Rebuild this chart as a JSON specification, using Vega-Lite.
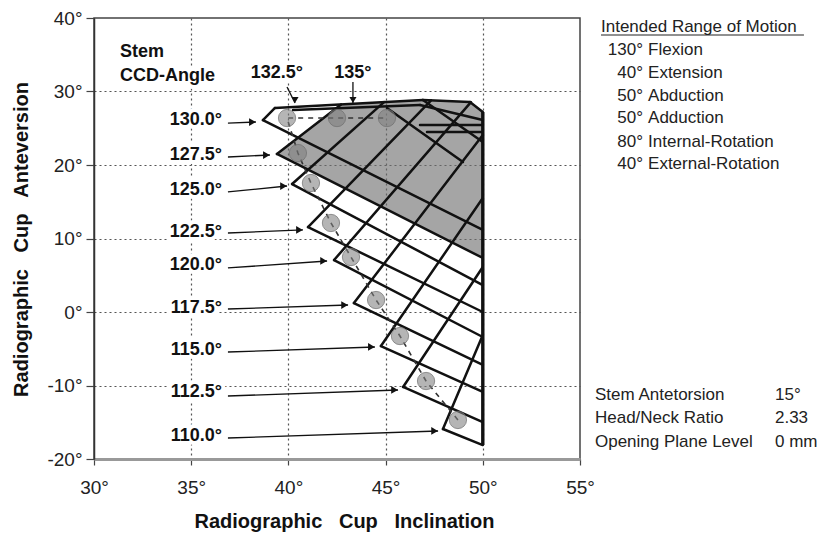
{
  "$schema": "https://vega.github.io/schema/vega-lite/v6.json",
  "width": 486,
  "height": 441,
  "autosize": {"type": "none"},
  "padding": {"left": 94, "top": 18, "right": 239, "bottom": 76},
  "background": "white",
  "config": {"view": {"stroke": "#444", "strokeWidth": 1.5}, "font": "Liberation Sans"},
  "datasets": {
    "gray": [
      {"x": 39.41, "lo": 21.50, "hi": 21.50},
      {"x": 42.71, "lo": 17.09, "hi": 28.24},
      {"x": 46.92, "lo": 11.47, "hi": 28.84},
      {"x": 49.34, "lo": 8.23, "hi": 28.57},
      {"x": 50.00, "lo": 7.35, "hi": 27.21}
    ],
    "mesh": [
      {"x": 47.95, "y": -15.92, "x2": 50, "y2": -18.10},
      {"x": 45.90, "y": -10.20, "x2": 50, "y2": -14.97},
      {"x": 44.76, "y": -4.63, "x2": 50, "y2": -10.88},
      {"x": 43.37, "y": 1.22, "x2": 50, "y2": -7.21},
      {"x": 42.35, "y": 7.07, "x2": 50, "y2": -3.40},
      {"x": 41.01, "y": 11.56, "x2": 50, "y2": 0.00},
      {"x": 40.19, "y": 17.41, "x2": 50, "y2": 3.67},
      {"x": 39.41, "y": 21.50, "x2": 50, "y2": 7.35},
      {"x": 38.69, "y": 26.12, "x2": 50, "y2": 11.16},
      {"x": 38.69, "y": 26.12, "x2": 39.31, "y2": 27.76},
      {"x": 39.41, "y": 21.50, "x2": 42.71, "y2": 28.24},
      {"x": 40.19, "y": 17.41, "x2": 44.92, "y2": 28.56},
      {"x": 41.01, "y": 11.56, "x2": 47.34, "y2": 28.80},
      {"x": 42.35, "y": 7.07, "x2": 49.39, "y2": 28.56},
      {"x": 43.37, "y": 1.22, "x2": 50, "y2": 24.08},
      {"x": 44.76, "y": -4.63, "x2": 50, "y2": 15.51},
      {"x": 45.90, "y": -10.20, "x2": 50, "y2": 6.12},
      {"x": 47.95, "y": -15.92, "x2": 50, "y2": -3.13},
      {"x": 39.31, "y": 27.76, "x2": 46.92, "y2": 28.84},
      {"x": 46.92, "y": 28.84, "x2": 49.34, "y2": 28.57},
      {"x": 49.34, "y": 28.57, "x2": 50, "y2": 27.21},
      {"x": 40.24, "y": 27.48, "x2": 46.77, "y2": 28.16},
      {"x": 46.77, "y": 28.16, "x2": 50, "y2": 26.12},
      {"x": 46.92, "y": 28.84, "x2": 50, "y2": 23.13},
      {"x": 46.77, "y": 25.44, "x2": 50, "y2": 25.44},
      {"x": 47.13, "y": 24.49, "x2": 50, "y2": 24.49},
      {"x": 45.07, "y": 27.76, "x2": 48.98, "y2": 20.41}
    ],
    "edge": [
      {"x": 50, "y": -18.10, "x2": 50, "y2": 27.21}
    ],
    "circles": [
      {"ccd": 110.0, "x": 48.72, "y": -14.69},
      {"ccd": 112.5, "x": 47.08, "y": -9.39},
      {"ccd": 115.0, "x": 45.74, "y": -3.27},
      {"ccd": 117.5, "x": 44.51, "y": 1.63},
      {"ccd": 120.0, "x": 43.22, "y": 7.48},
      {"ccd": 122.5, "x": 42.19, "y": 12.11},
      {"ccd": 125.0, "x": 41.16, "y": 17.55},
      {"ccd": 127.5, "x": 40.49, "y": 21.63},
      {"ccd": 130.0, "x": 39.93, "y": 26.39},
      {"ccd": 132.5, "x": 42.50, "y": 26.39},
      {"ccd": 135.0, "x": 45.07, "y": 26.39}
    ],
    "ccdLabels": [
      {"t": "130.0°", "x": 36.58, "y": 26.12},
      {"t": "127.5°", "x": 36.58, "y": 21.36},
      {"t": "125.0°", "x": 36.58, "y": 16.60},
      {"t": "122.5°", "x": 36.58, "y": 10.88},
      {"t": "120.0°", "x": 36.58, "y": 6.39},
      {"t": "117.5°", "x": 36.58, "y": 0.54},
      {"t": "115.0°", "x": 36.58, "y": -5.17},
      {"t": "112.5°", "x": 36.58, "y": -10.88},
      {"t": "110.0°", "x": 36.58, "y": -16.87}
    ],
    "arrows": [
      {"x": 36.89, "y": 25.71, "x2": 38.33, "y2": 25.85},
      {"x": 36.89, "y": 21.09, "x2": 39.05, "y2": 21.36},
      {"x": 36.89, "y": 16.33, "x2": 39.93, "y2": 17.14},
      {"x": 36.89, "y": 10.75, "x2": 40.75, "y2": 11.16},
      {"x": 36.89, "y": 5.99, "x2": 41.99, "y2": 6.94},
      {"x": 36.89, "y": 0.41, "x2": 43.07, "y2": 0.95},
      {"x": 36.89, "y": -5.44, "x2": 44.45, "y2": -4.76},
      {"x": 36.89, "y": -11.43, "x2": 45.64, "y2": -10.61},
      {"x": 36.89, "y": -17.14, "x2": 47.70, "y2": -16.19}
    ],
    "topArrows": [
      {"x": 39.93, "y": 30.61, "x2": 40.34, "y2": 28.44},
      {"x": 43.32, "y": 31.29, "x2": 43.32, "y2": 28.44}
    ],
    "topLabels": [
      {"t": "132.5°", "x": 39.41, "y": 32.52},
      {"t": "135°", "x": 43.32, "y": 32.52}
    ],
    "stemLabels": [
      {"t": "Stem", "x": 31.34, "y": 35.37},
      {"t": "CCD-Angle", "x": 31.34, "y": 32.11}
    ],
    "info": [
      {"t": "Intended Range of Motion", "x": 56.08, "y": 38.78},
      {"t": "Flexion", "x": 58.50, "y": 35.65},
      {"t": "Extension", "x": 58.50, "y": 32.52},
      {"t": "Abduction", "x": 58.50, "y": 29.39},
      {"t": "Adduction", "x": 58.50, "y": 26.39},
      {"t": "Internal-Rotation", "x": 58.50, "y": 23.13},
      {"t": "External-Rotation", "x": 58.50, "y": 20.14},
      {"t": "Stem Antetorsion", "x": 55.77, "y": -11.29},
      {"t": "Head/Neck Ratio", "x": 55.77, "y": -14.42},
      {"t": "Opening Plane Level", "x": 55.77, "y": -17.69},
      {"t": "15°", "x": 65.03, "y": -11.29},
      {"t": "2.33", "x": 65.03, "y": -14.42},
      {"t": "0 mm", "x": 65.03, "y": -17.69}
    ],
    "infoNum": [
      {"t": "130°", "x": 58.24, "y": 35.65},
      {"t": "40°", "x": 58.24, "y": 32.52},
      {"t": "50°", "x": 58.24, "y": 29.39},
      {"t": "50°", "x": 58.24, "y": 26.39},
      {"t": "80°", "x": 58.24, "y": 23.13},
      {"t": "40°", "x": 58.24, "y": 20.14}
    ],
    "underline": [
      {"x": 56.08, "y": 37.69, "x2": 66.52, "y2": 37.69}
    ]
  },
  "layer": [
    {
      "data": {"name": "gray"},
      "mark": {"type": "area", "color": "#6e6e6e", "opacity": 0.62},
      "encoding": {
        "x": {
          "field": "x", "type": "quantitative",
          "scale": {"domain": [30, 55], "nice": false, "zero": false},
          "axis": {
            "values": [30, 35, 40, 45, 50, 55],
            "labelExpr": "datum.value + '°'",
            "title": "Radiographic\u00a0\u00a0 Cup\u00a0\u00a0 Inclination",
            "titleFont": "Liberation Sans", "titleFontSize": 20, "titleFontWeight": "bold", "titleColor": "#111",
            "titleBaseline": "alphabetic", "titleY": 68, "titleX": 250,
            "labelFont": "Liberation Sans", "labelFontSize": 19, "labelColor": "#222",
            "labelBaseline": "middle", "labelPadding": 22, "labelFlush": false,
            "tickSize": 6, "tickColor": "#444", "tickWidth": 1.2,
            "domainColor": "#999", "domainWidth": 3,
            "grid": true, "gridColor": "#555", "gridDash": [2, 3], "gridWidth": 1.2,
            "gridOpacity": {"condition": {"test": "datum.value == 30 || datum.value == 55", "value": 0}, "value": 1}
          }
        },
        "y": {
          "field": "lo", "type": "quantitative",
          "scale": {"domain": [-20, 40], "nice": false, "zero": false},
          "axis": {
            "values": [-20, -15, -10, -5, 0, 5, 10, 15, 20, 25, 30, 35, 40],
            "labelExpr": "datum.value % 10 === 0 ? datum.value + '°' : ''",
            "title": "Radiographic\u00a0\u00a0 Cup\u00a0\u00a0 Anteversion",
            "titleFont": "Liberation Sans", "titleFontSize": 20, "titleFontWeight": "bold", "titleColor": "#111",
            "titleBaseline": "alphabetic", "titleX": -67, "titleY": 221, "titleAngle": 270,
            "labelFont": "Liberation Sans", "labelFontSize": 19, "labelColor": "#222", "labelPadding": 4,
            "tickSize": {"condition": {"test": "datum.value % 10 === 0", "value": 8}, "value": 4},
            "tickColor": "#444", "tickWidth": 1.2,
            "domainColor": "#333", "domainWidth": 1.5,
            "grid": true, "gridColor": "#555", "gridDash": [2, 3], "gridWidth": 1.2,
            "gridOpacity": {"condition": {"test": "datum.value % 10 === 0 && datum.value > -20 && datum.value < 40", "value": 1}, "value": 0}
          }
        },
        "y2": {"field": "hi"}
      }
    },
    {
      "data": {"name": "mesh"},
      "mark": {"type": "rule", "color": "#111", "strokeWidth": 2.5, "strokeCap": "round"},
      "encoding": {
        "x": {"field": "x", "type": "quantitative"},
        "y": {"field": "y", "type": "quantitative"},
        "x2": {"field": "x2"},
        "y2": {"field": "y2"}
      }
    },
    {
      "data": {"name": "edge"},
      "mark": {"type": "rule", "color": "#111", "strokeWidth": 3.4},
      "encoding": {
        "x": {"field": "x", "type": "quantitative"},
        "y": {"field": "y", "type": "quantitative"},
        "x2": {"field": "x2"},
        "y2": {"field": "y2"}
      }
    },
    {
      "data": {"name": "circles"},
      "mark": {"type": "line", "color": "#333", "strokeWidth": 1.6, "strokeDash": [5, 5]},
      "encoding": {
        "x": {"field": "x", "type": "quantitative"},
        "y": {"field": "y", "type": "quantitative"},
        "order": {"field": "ccd", "type": "quantitative"}
      }
    },
    {
      "data": {"name": "circles"},
      "mark": {"type": "point", "filled": true, "shape": "circle", "size": 300, "fill": "#808080", "fillOpacity": 0.58, "stroke": "#6f6f6f", "strokeWidth": 1, "strokeOpacity": 0.7},
      "encoding": {
        "x": {"field": "x", "type": "quantitative"},
        "y": {"field": "y", "type": "quantitative"}
      }
    },
    {
      "data": {"name": "ccdLabels"},
      "mark": {"type": "text", "font": "Liberation Sans", "fontSize": 18, "fontWeight": "bold", "color": "white", "stroke": "white", "strokeWidth": 8, "strokeJoin": "round", "align": "right", "baseline": "middle"},
      "encoding": {
        "x": {"field": "x", "type": "quantitative"},
        "y": {"field": "y", "type": "quantitative"},
        "text": {"field": "t"}
      }
    },
    {
      "data": {"name": "topLabels"},
      "mark": {"type": "text", "font": "Liberation Sans", "fontSize": 18, "fontWeight": "bold", "color": "white", "stroke": "white", "strokeWidth": 8, "strokeJoin": "round", "align": "center", "baseline": "middle"},
      "encoding": {
        "x": {"field": "x", "type": "quantitative"},
        "y": {"field": "y", "type": "quantitative"},
        "text": {"field": "t"}
      }
    },
    {
      "data": {"name": "stemLabels"},
      "mark": {"type": "text", "font": "Liberation Sans", "fontSize": 18, "fontWeight": "bold", "color": "white", "stroke": "white", "strokeWidth": 8, "strokeJoin": "round", "align": "left", "baseline": "middle"},
      "encoding": {
        "x": {"field": "x", "type": "quantitative"},
        "y": {"field": "y", "type": "quantitative"},
        "text": {"field": "t"}
      }
    },
    {
      "data": {"name": "arrows"},
      "mark": {"type": "rule", "color": "#111", "strokeWidth": 1.3},
      "encoding": {
        "x": {"field": "x", "type": "quantitative"},
        "y": {"field": "y", "type": "quantitative"},
        "x2": {"field": "x2"},
        "y2": {"field": "y2"}
      }
    },
    {
      "data": {"name": "arrows"},
      "mark": {"type": "point", "shape": "triangle-right", "filled": true, "size": 60, "color": "#111", "opacity": 1, "xOffset": -3.5},
      "encoding": {
        "x": {"field": "x2", "type": "quantitative"},
        "y": {"field": "y2", "type": "quantitative"}
      }
    },
    {
      "data": {"name": "topArrows"},
      "mark": {"type": "rule", "color": "#111", "strokeWidth": 1.3},
      "encoding": {
        "x": {"field": "x", "type": "quantitative"},
        "y": {"field": "y", "type": "quantitative"},
        "x2": {"field": "x2"},
        "y2": {"field": "y2"}
      }
    },
    {
      "data": {"name": "topArrows"},
      "mark": {"type": "point", "shape": "triangle-down", "filled": true, "size": 50, "color": "#111", "opacity": 1, "yOffset": -3},
      "encoding": {
        "x": {"field": "x2", "type": "quantitative"},
        "y": {"field": "y2", "type": "quantitative"}
      }
    },
    {
      "data": {"name": "ccdLabels"},
      "mark": {"type": "text", "font": "Liberation Sans", "fontSize": 18, "fontWeight": "bold", "color": "#111", "align": "right", "baseline": "middle"},
      "encoding": {
        "x": {"field": "x", "type": "quantitative"},
        "y": {"field": "y", "type": "quantitative"},
        "text": {"field": "t"}
      }
    },
    {
      "data": {"name": "topLabels"},
      "mark": {"type": "text", "font": "Liberation Sans", "fontSize": 18, "fontWeight": "bold", "color": "#111", "align": "center", "baseline": "middle"},
      "encoding": {
        "x": {"field": "x", "type": "quantitative"},
        "y": {"field": "y", "type": "quantitative"},
        "text": {"field": "t"}
      }
    },
    {
      "data": {"name": "stemLabels"},
      "mark": {"type": "text", "font": "Liberation Sans", "fontSize": 18, "fontWeight": "bold", "color": "#111", "align": "left", "baseline": "middle"},
      "encoding": {
        "x": {"field": "x", "type": "quantitative"},
        "y": {"field": "y", "type": "quantitative"},
        "text": {"field": "t"}
      }
    },
    {
      "data": {"name": "info"},
      "mark": {"type": "text", "font": "Liberation Sans", "fontSize": 17, "color": "#222", "align": "left", "baseline": "middle"},
      "encoding": {
        "x": {"field": "x", "type": "quantitative"},
        "y": {"field": "y", "type": "quantitative"},
        "text": {"field": "t"}
      }
    },
    {
      "data": {"name": "infoNum"},
      "mark": {"type": "text", "font": "Liberation Sans", "fontSize": 17, "color": "#222", "align": "right", "baseline": "middle"},
      "encoding": {
        "x": {"field": "x", "type": "quantitative"},
        "y": {"field": "y", "type": "quantitative"},
        "text": {"field": "t"}
      }
    },
    {
      "data": {"name": "underline"},
      "mark": {"type": "rule", "color": "#222", "strokeWidth": 1.2},
      "encoding": {
        "x": {"field": "x", "type": "quantitative"},
        "y": {"field": "y", "type": "quantitative"},
        "x2": {"field": "x2"},
        "y2": {"field": "y2"}
      }
    }
  ]
}
